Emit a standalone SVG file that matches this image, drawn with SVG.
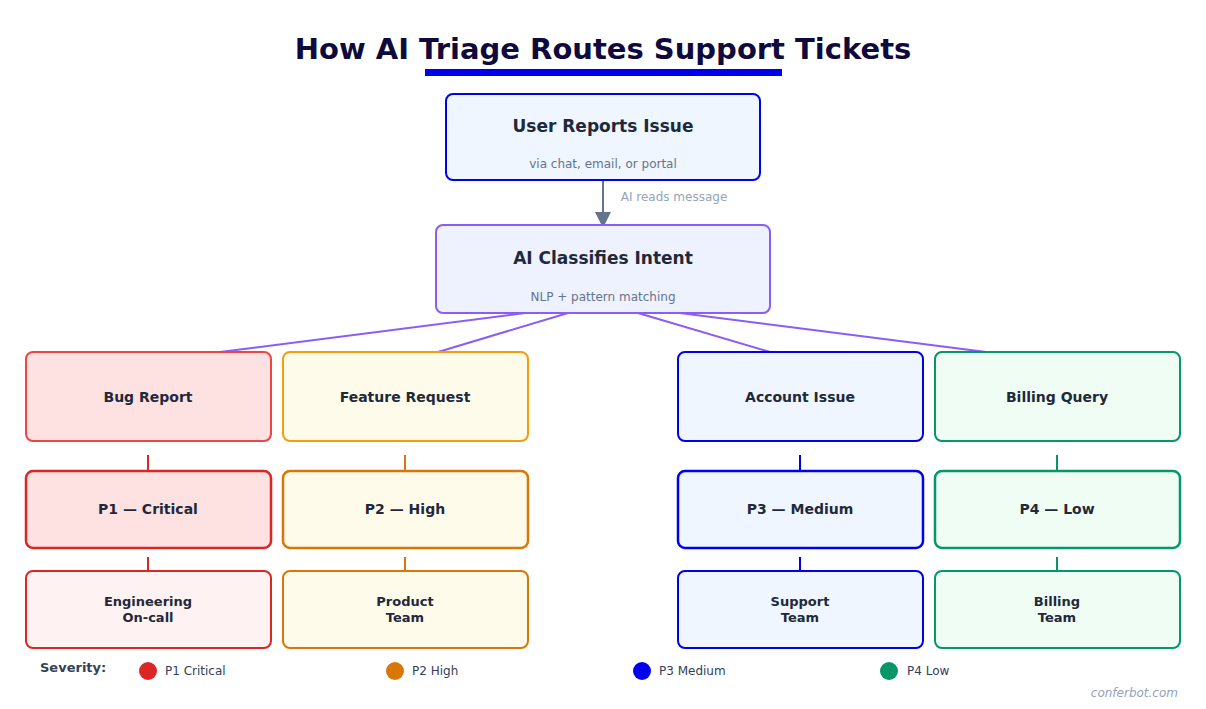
<svg xmlns="http://www.w3.org/2000/svg" width="1206" height="709" viewBox="0 0 1206 709">
<style>
text{font-family:"DejaVu Sans",Verdana,sans-serif;text-anchor:middle}
.t{font-weight:bold;fill:#1e293b}
.s{font-size:12px;fill:#64748b}
.b{stroke-width:2}
.l{font-size:12px;fill:#334155;text-anchor:start}
</style>
<defs><marker id="ar" markerWidth="8" markerHeight="8" refX="6" refY="4" orient="auto"><path d="M0,0L8,4L0,8z" fill="#64748b"/></marker></defs>
<rect width="1206" height="709" fill="#fff"/>
<text x="603" y="59" font-size="29" font-weight="bold" fill="#0f0a3c">How AI Triage Routes Support Tickets</text>
<rect x="425" y="69" width="357" height="7" fill="#0000ee"/>
<g id="connectors" fill="none" stroke-width="2">
<line x1="603" y1="181" x2="603" y2="224" stroke="#64748b" marker-end="url(#ar)"/>
<g stroke="#8b5cf6"><line x1="525" y1="313" x2="220" y2="352"/><line x1="568" y1="313" x2="438" y2="352"/><line x1="638" y1="313" x2="770" y2="352"/><line x1="680" y1="313" x2="986" y2="352"/></g>
<g stroke="#dc2626"><line x1="148" y1="455" x2="148" y2="471"/><line x1="148" y1="557" x2="148" y2="571"/></g>
<g stroke="#d97706"><line x1="405" y1="455" x2="405" y2="471"/><line x1="405" y1="557" x2="405" y2="571"/></g>
<g stroke="#0000ee"><line x1="800" y1="455" x2="800" y2="471"/><line x1="800" y1="557" x2="800" y2="571"/></g>
<g stroke="#059669"><line x1="1057" y1="455" x2="1057" y2="471"/><line x1="1057" y1="557" x2="1057" y2="571"/></g>
</g>
<text x="674" y="201" font-size="12" fill="#94a3b8">AI reads message</text>
<g id="user"><rect x="446" y="94" width="314" height="86" rx="7" fill="#eff6ff" stroke="#0000ee" class="b"/><text x="603" y="132" font-size="17" class="t">User Reports Issue</text><text x="603" y="168" class="s">via chat, email, or portal</text></g>
<g id="ai"><rect x="436" y="225" width="334" height="88" rx="7" fill="#eef2ff" stroke="#8b5cf6" class="b"/><text x="603" y="264" font-size="17" class="t">AI Classifies Intent</text><text x="603" y="301" class="s">NLP + pattern matching</text></g>
<g id="bug"><rect x="26" y="352" width="245" height="89" rx="7" fill="#fee2e2" stroke="#ef4444" class="b"/><text x="148" y="402" font-size="14" class="t">Bug Report</text></g>
<g id="feature"><rect x="283" y="352" width="245" height="89" rx="7" fill="#fefbeb" stroke="#f59e0b" class="b"/><text x="405" y="402" font-size="14" class="t">Feature Request</text></g>
<g id="account"><rect x="678" y="352" width="245" height="89" rx="7" fill="#eff6ff" stroke="#0000ee" class="b"/><text x="800" y="402" font-size="14" class="t">Account Issue</text></g>
<g id="billing"><rect x="935" y="352" width="245" height="89" rx="7" fill="#f0fdf4" stroke="#059669" class="b"/><text x="1057" y="402" font-size="14" class="t">Billing Query</text></g>
<g id="p1"><rect x="26" y="471" width="245" height="77" rx="7" fill="#fee2e2" stroke="#dc2626" stroke-width="2.5"/><text x="148" y="514" font-size="14" class="t">P1 — Critical</text></g>
<g id="p2"><rect x="283" y="471" width="245" height="77" rx="7" fill="#fefbeb" stroke="#d97706" stroke-width="2.5"/><text x="405" y="514" font-size="14" class="t">P2 — High</text></g>
<g id="p3"><rect x="678" y="471" width="245" height="77" rx="7" fill="#eff6ff" stroke="#0000ee" stroke-width="2.5"/><text x="800" y="514" font-size="14" class="t">P3 — Medium</text></g>
<g id="p4"><rect x="935" y="471" width="245" height="77" rx="7" fill="#f0fdf4" stroke="#059669" stroke-width="2.5"/><text x="1057" y="514" font-size="14" class="t">P4 — Low</text></g>
<g id="eng"><rect x="26" y="571" width="245" height="77" rx="7" fill="#fef2f2" stroke="#dc2626" class="b"/><text x="148" y="606" font-size="13" class="t">Engineering</text><text x="148" y="622" font-size="13" class="t">On-call</text></g>
<g id="product"><rect x="283" y="571" width="245" height="77" rx="7" fill="#fffbeb" stroke="#d97706" class="b"/><text x="405" y="606" font-size="13" class="t">Product</text><text x="405" y="622" font-size="13" class="t">Team</text></g>
<g id="support"><rect x="678" y="571" width="245" height="77" rx="7" fill="#eff6ff" stroke="#0000ee" class="b"/><text x="800" y="606" font-size="13" class="t">Support</text><text x="800" y="622" font-size="13" class="t">Team</text></g>
<g id="billteam"><rect x="935" y="571" width="245" height="77" rx="7" fill="#f0fdf4" stroke="#059669" class="b"/><text x="1057" y="606" font-size="13" class="t">Billing</text><text x="1057" y="622" font-size="13" class="t">Team</text></g>
<g id="legend">
<text x="40" y="672" font-size="13" font-weight="bold" fill="#334155" style="text-anchor:start">Severity:</text>
<circle cx="148" cy="671" r="9" fill="#dc2626"/><text x="165" y="675" class="l">P1 Critical</text>
<circle cx="395" cy="671" r="9" fill="#d97706"/><text x="412" y="675" class="l">P2 High</text>
<circle cx="642" cy="671" r="9" fill="#0000ee"/><text x="659" y="675" class="l">P3 Medium</text>
<circle cx="889" cy="671" r="9" fill="#059669"/><text x="907" y="675" class="l">P4 Low</text>
</g>
<text x="1178" y="697" font-size="12" font-style="italic" fill="#94a3b8" style="text-anchor:end">conferbot.com</text>
</svg>
